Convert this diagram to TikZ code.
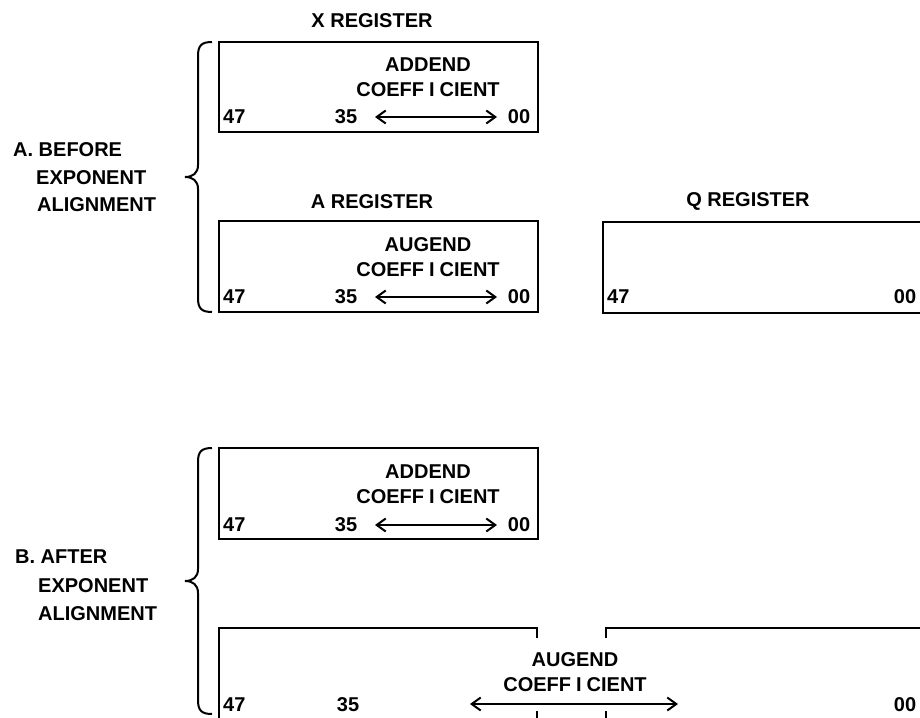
\documentclass[tikz,border=0pt]{standalone}
\usepackage{fontspec}
\setmainfont{Liberation Sans}
\usetikzlibrary{arrows.meta}
\newcommand{\coeff}{COEFF\kern5pt I\kern5pt CIENT}
\tikzset{
  reg/.style={line width=2.2pt},
  lbl/.style={font=\bfseries\fontsize{20}{25}\selectfont, inner sep=0pt, align=center},
  lft/.style={lbl, anchor=west},
  brace/.style={line width=2pt},
  darrow/.style={line width=1.8pt, {Straight Barb[length=9pt,width=13pt,line width=2pt]}-{Straight Barb[length=9pt,width=13pt,line width=2pt]}},
  tick/.style={line width=2.2pt}
}
\begin{document}
\begin{tikzpicture}[x=1pt,y=-1pt]
\useasboundingbox (0,0) rectangle (920,717);
\clip (0,0) rectangle (920,717);
\fill[white] (0,0) rectangle (920,717);

% ---------- A. BEFORE ----------
\node[lft] (la1) at (13,150) {A. BEFORE};
\node[lft] (la2) at (36,178) {EXPONENT};
\node[lft] (la3) at (37,205) {ALIGNMENT};
\draw[brace] (212,42) .. controls (201,42) and (198,46) .. (198,56) -- (198,165)
  .. controls (198,173) and (193,177) .. (185,177)
  .. controls (193,177) and (198,181) .. (198,189) -- (198,298)
  .. controls (198,308) and (201,312) .. (212,312);

% X register
\node[lbl] (xt) at (372,21) {X REGISTER};
\draw[reg] (219,42) rectangle (538,132);
\node[lbl] (xc) at (428,77.5) {ADDEND\\\coeff};
\node[lft] (x47) at (223,117) {47};
\node[lbl] (x35) at (346,117) {35};
\node[lbl] (x00) at (519,117) {00};
\coordinate (xa1) at (375,117);
\coordinate (xa2) at (497,117);
\draw[darrow] (xa1) -- (xa2);

% A register
\node[lbl] (at) at (372,202) {A REGISTER};
\draw[reg] (219,221) rectangle (538,312);
\node[lbl] (ac) at (428,257) {AUGEND\\\coeff};
\node[lft] (a47) at (223,297) {47};
\node[lbl] (a35) at (346,297) {35};
\node[lbl] (a00) at (519,297) {00};
\coordinate (aa1) at (375,297);
\coordinate (aa2) at (497,297);
\draw[darrow] (aa1) -- (aa2);

% Q register
\node[lbl] (qt) at (748,201) {Q REGISTER};
\draw[reg] (930,222) -- (603,222) -- (603,313) -- (930,313);
\node[lft] (q47) at (607,297) {47};
\node[lbl] (q00) at (905,297) {00};

% ---------- B. AFTER ----------
\node[lft] (lb1) at (15,557) {B. AFTER};
\node[lft] (lb2) at (38,586) {EXPONENT};
\node[lft] (lb3) at (38,614) {ALIGNMENT};
\draw[brace] (212,448) .. controls (201,448) and (198,452) .. (198,462) -- (198,569)
  .. controls (198,577) and (193,581) .. (185,581)
  .. controls (193,581) and (198,585) .. (198,593) -- (198,700)
  .. controls (198,710) and (201,714) .. (212,714);

% addend after
\draw[reg] (219,448) rectangle (538,539);
\node[lbl] (bc) at (428,484) {ADDEND\\\coeff};
\node[lft] (b47) at (223,525) {47};
\node[lbl] (b35) at (346,525) {35};
\node[lbl] (b00) at (519,525) {00};
\coordinate (ba1) at (375,525);
\coordinate (ba2) at (497,525);
\draw[darrow] (ba1) -- (ba2);

% combined A-Q after
\draw[reg] (537,638) -- (537,628) -- (219,628) -- (219,725) -- (930,725);
\draw[reg] (606,638) -- (606,628) -- (930,628);
\draw[tick] (537,711) -- (537,725);
\draw[tick] (606,711) -- (606,725);
\node[lbl] (cc) at (575,672.5) {AUGEND\\\coeff};
\node[lft] (c47) at (223,705) {47};
\node[lbl] (c35) at (348,705) {35};
\node[lbl] (c00) at (905,705) {00};
\coordinate (ca1) at (470,704);
\coordinate (ca2) at (678,704);
\draw[darrow] (ca1) -- (ca2);
\end{tikzpicture}
\end{document}
